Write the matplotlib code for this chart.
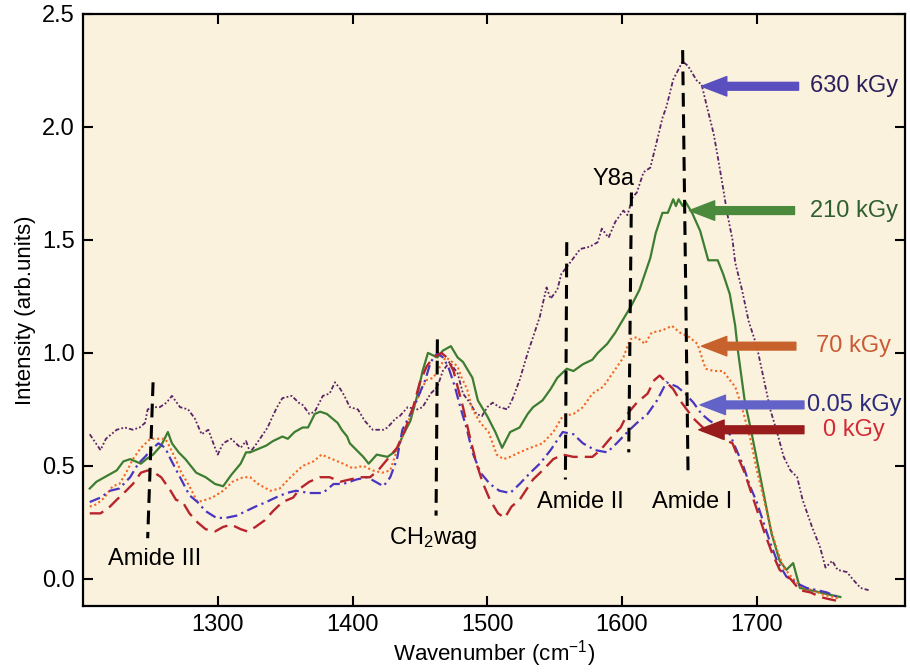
import matplotlib
matplotlib.use("Agg")
from matplotlib import pyplot as plt

plt.rcParams['font.family'] = ['Liberation Sans', 'DejaVu Sans']
plt.rcParams['mathtext.fontset'] = 'custom'
plt.rcParams['mathtext.rm'] = 'Liberation Sans'
plt.rcParams['mathtext.default'] = 'regular'

# ---- spectra (wavenumber, intensity) ----
wn_630 = [1205, 1213, 1217, 1225, 1231, 1237, 1242, 1246, 1248, 1252, 1257, 1262, 1266, 1272, 1278, 1283,
          1288, 1293, 1298, 1300, 1304, 1310, 1317, 1321, 1324, 1329, 1337, 1340, 1344, 1348, 1355, 1360,
          1363, 1368, 1372, 1378, 1383, 1387, 1391, 1394, 1398, 1404, 1409, 1415, 1423, 1426, 1432, 1435,
          1441, 1448, 1452, 1458, 1463, 1467, 1472, 1478, 1482, 1487, 1492, 1496, 1500, 1504, 1509, 1515,
          1519, 1524, 1530, 1534, 1539, 1544, 1547, 1552, 1555, 1559, 1564, 1569, 1576, 1582, 1585, 1590,
          1595, 1601, 1604, 1608, 1611, 1616, 1621, 1626, 1630, 1633, 1638, 1645, 1649, 1656, 1659, 1663,
          1668, 1671, 1675, 1678, 1682, 1684, 1689, 1694, 1700, 1705, 1710, 1715, 1720, 1725, 1730, 1734,
          1741, 1747, 1751, 1756, 1760, 1767, 1771, 1777, 1783]
int_630 = [0.64, 0.57, 0.62, 0.66, 0.67, 0.66, 0.67, 0.69, 0.75, 0.76, 0.76, 0.78, 0.81, 0.76, 0.75, 0.71,
           0.64, 0.66, 0.58, 0.55, 0.60, 0.62, 0.58, 0.61, 0.56, 0.60, 0.67, 0.71, 0.76, 0.80, 0.81, 0.78,
           0.77, 0.73, 0.74, 0.81, 0.82, 0.87, 0.84, 0.81, 0.76, 0.75, 0.70, 0.66, 0.66, 0.67, 0.71, 0.72,
           0.76, 0.75, 0.76, 0.82, 0.85, 0.92, 0.96, 0.91, 0.82, 0.78, 0.73, 0.72, 0.76, 0.78, 0.76, 0.75,
           0.80, 0.88, 1.00, 1.07, 1.16, 1.29, 1.24, 1.28, 1.35, 1.38, 1.42, 1.46, 1.47, 1.49, 1.55, 1.51,
           1.58, 1.63, 1.61, 1.69, 1.71, 1.80, 1.82, 1.94, 2.04, 2.09, 2.21, 2.29, 2.27, 2.20, 2.19, 2.09,
           1.97, 1.87, 1.73, 1.62, 1.50, 1.40, 1.28, 1.14, 1.03, 0.89, 0.75, 0.65, 0.54, 0.48, 0.45, 0.35,
           0.23, 0.14, 0.05, 0.08, 0.04, 0.03, 0.00, -0.04, -0.05]

wn_210 = [1205, 1210, 1216, 1225, 1230, 1235, 1239, 1243, 1247, 1252, 1258, 1263, 1266, 1271, 1276, 1284,
          1291, 1298, 1304, 1310, 1317, 1321, 1324, 1328, 1336, 1341, 1348, 1352, 1357, 1363, 1367, 1372,
          1376, 1381, 1385, 1389, 1392, 1396, 1398, 1403, 1408, 1412, 1418, 1426, 1433, 1437, 1443, 1448,
          1452, 1456, 1463, 1467, 1473, 1478, 1482, 1489, 1493, 1500, 1506, 1511, 1517, 1524, 1530, 1534,
          1541, 1547, 1552, 1559, 1564, 1571, 1578, 1582, 1589, 1595, 1601, 1607, 1613, 1617, 1621, 1625,
          1630, 1634, 1636, 1638, 1640, 1642, 1645, 1647, 1652, 1658, 1664, 1671, 1675, 1680, 1684, 1686,
          1691, 1696, 1701, 1706, 1711, 1717, 1722, 1727, 1732, 1740, 1747, 1754, 1762]
int_210 = [0.40, 0.43, 0.45, 0.48, 0.52, 0.53, 0.52, 0.51, 0.53, 0.55, 0.59, 0.65, 0.60, 0.56, 0.53, 0.47,
           0.45, 0.42, 0.41, 0.46, 0.51, 0.56, 0.56, 0.57, 0.59, 0.61, 0.63, 0.62, 0.65, 0.67, 0.67, 0.73,
           0.74, 0.73, 0.71, 0.69, 0.66, 0.63, 0.60, 0.57, 0.54, 0.51, 0.55, 0.54, 0.57, 0.63, 0.70, 0.81,
           0.92, 1.00, 0.98, 1.01, 1.03, 0.98, 0.96, 0.89, 0.79, 0.72, 0.65, 0.58, 0.65, 0.67, 0.73, 0.76,
           0.79, 0.84, 0.89, 0.93, 0.92, 0.95, 0.97, 1.00, 1.04, 1.09, 1.15, 1.21, 1.28, 1.35, 1.42, 1.53,
           1.62, 1.62, 1.65, 1.68, 1.65, 1.68, 1.65, 1.67, 1.62, 1.54, 1.41, 1.41, 1.35, 1.26, 1.12, 1.01,
           0.79, 0.65, 0.50, 0.35, 0.20, 0.08, 0.04, 0.07, -0.04, -0.05, -0.06, -0.07, -0.08]

wn_70 = [1205, 1210, 1216, 1222, 1227, 1232, 1237, 1243, 1250, 1254, 1261, 1263, 1268, 1273, 1279, 1285,
         1291, 1296, 1304, 1311, 1319, 1324, 1330, 1339, 1346, 1354, 1363, 1371, 1377, 1385, 1393, 1400,
         1408, 1415, 1422, 1428, 1433, 1439, 1445, 1452, 1455, 1460, 1465, 1469, 1472, 1478, 1481, 1485,
         1489, 1495, 1501, 1507, 1512, 1517, 1524, 1532, 1541, 1549, 1556, 1564, 1571, 1578, 1586, 1593,
         1601, 1606, 1611, 1617, 1622, 1630, 1637, 1643, 1650, 1656, 1662, 1668, 1675, 1680, 1684, 1688,
         1693, 1696, 1700, 1705, 1710, 1715, 1720, 1727, 1734, 1742, 1749, 1757, 1762]
int_70 = [0.32, 0.33, 0.36, 0.41, 0.42, 0.47, 0.53, 0.58, 0.62, 0.62, 0.62, 0.60, 0.54, 0.47, 0.41, 0.34,
          0.35, 0.36, 0.39, 0.43, 0.45, 0.45, 0.42, 0.39, 0.40, 0.45, 0.50, 0.52, 0.55, 0.53, 0.51, 0.49,
          0.50, 0.48, 0.47, 0.48, 0.57, 0.66, 0.75, 0.85, 0.88, 0.89, 0.94, 0.98, 0.97, 0.94, 0.89, 0.84,
          0.75, 0.69, 0.65, 0.55, 0.53, 0.54, 0.56, 0.58, 0.60, 0.65, 0.72, 0.73, 0.76, 0.82, 0.85, 0.91,
          0.98, 1.06, 1.07, 1.04, 1.09, 1.10, 1.12, 1.09, 1.07, 1.04, 0.93, 0.92, 0.92, 0.88, 0.85, 0.78,
          0.67, 0.60, 0.48, 0.36, 0.23, 0.13, 0.05, 0.00, -0.04, -0.05, -0.07, -0.08, -0.09]

wn_005 = [1205, 1213, 1220, 1227, 1235, 1241, 1246, 1252, 1256, 1261, 1265, 1272, 1279, 1285, 1291, 1299,
          1306, 1314, 1321, 1328, 1336, 1343, 1351, 1358, 1368, 1378, 1386, 1393, 1403, 1411, 1417, 1423,
          1428, 1433, 1437, 1443, 1449, 1454, 1458, 1463, 1467, 1471, 1476, 1480, 1485, 1489, 1495, 1502,
          1509, 1517, 1524, 1532, 1539, 1547, 1556, 1564, 1571, 1580, 1589, 1596, 1604, 1611, 1619, 1626,
          1633, 1641, 1647, 1653, 1659, 1665, 1673, 1680, 1685, 1690, 1695, 1700, 1705, 1710, 1715, 1722,
          1730, 1737, 1745, 1752, 1760]
int_005 = [0.34, 0.36, 0.39, 0.40, 0.45, 0.51, 0.54, 0.58, 0.60, 0.58, 0.53, 0.45, 0.37, 0.34, 0.30, 0.27,
           0.27, 0.28, 0.30, 0.32, 0.34, 0.36, 0.38, 0.39, 0.38, 0.38, 0.42, 0.42, 0.44, 0.45, 0.43, 0.41,
           0.45, 0.53, 0.66, 0.73, 0.81, 0.88, 0.96, 1.00, 0.98, 0.94, 0.85, 0.76, 0.66, 0.56, 0.47, 0.42,
           0.39, 0.38, 0.42, 0.47, 0.51, 0.57, 0.65, 0.64, 0.60, 0.57, 0.56, 0.60, 0.65, 0.69, 0.73, 0.79,
           0.87, 0.85, 0.82, 0.78, 0.73, 0.70, 0.67, 0.64, 0.57, 0.50, 0.41, 0.34, 0.25, 0.16, 0.08, 0.01,
           -0.02, -0.04, -0.05, -0.06, -0.08]

wn_0 = [1205, 1213, 1220, 1225, 1232, 1237, 1243, 1248, 1253, 1258, 1265, 1269, 1274, 1279, 1285, 1291,
        1298, 1304, 1310, 1317, 1322, 1328, 1335, 1341, 1348, 1356, 1361, 1368, 1376, 1383, 1391, 1398,
        1406, 1413, 1419, 1426, 1433, 1439, 1445, 1450, 1455, 1460, 1466, 1470, 1475, 1478, 1482, 1487,
        1492, 1497, 1502, 1508, 1513, 1518, 1524, 1534, 1541, 1549, 1556, 1564, 1571, 1578, 1584, 1591,
        1599, 1604, 1611, 1619, 1624, 1628, 1633, 1638, 1643, 1648, 1653, 1660, 1668, 1675, 1682, 1686,
        1691, 1696, 1701, 1706, 1711, 1717, 1725, 1732, 1740, 1747, 1754, 1762]
int_0 = [0.29, 0.29, 0.32, 0.35, 0.39, 0.42, 0.47, 0.48, 0.47, 0.45, 0.39, 0.35, 0.34, 0.29, 0.25, 0.22,
         0.21, 0.23, 0.24, 0.22, 0.21, 0.23, 0.26, 0.30, 0.34, 0.36, 0.40, 0.43, 0.45, 0.45, 0.43, 0.44,
         0.45, 0.45, 0.48, 0.53, 0.58, 0.66, 0.76, 0.87, 0.94, 0.98, 1.00, 0.98, 0.92, 0.85, 0.76, 0.63,
         0.51, 0.42, 0.35, 0.29, 0.27, 0.32, 0.35, 0.44, 0.48, 0.53, 0.55, 0.54, 0.54, 0.54, 0.57, 0.62,
         0.67, 0.73, 0.78, 0.82, 0.88, 0.90, 0.87, 0.84, 0.79, 0.75, 0.71, 0.67, 0.65, 0.62, 0.60, 0.54,
         0.47, 0.38, 0.29, 0.20, 0.12, 0.04, 0.00, -0.05, -0.06, -0.08, -0.09, -0.10]

# ---- band markers: label, (x_top, y_top), (x_bottom, y_bottom), label position ----
band_names = ['Amide III', 'CH$_2$wag', 'Amide II', 'Y8a', 'Amide I']
band_top = [(1252, 0.87), (1463, 1.06), (1559, 1.49), (1607, 1.71), (1645, 2.34)]
band_bottom = [(1248, 0.18), (1462, 0.28), (1558, 0.44), (1605, 0.56), (1649, 0.47)]
band_text = [(1253, 0.09), (1460, 0.18), (1569, 0.34), (1594, 1.77), (1652, 0.34)]

# ---- dose labels with arrows ----
dose_names = ['630 kGy', '210 kGy', '70 kGy', '0.05 kGy', '0 kGy']
dose_y = [2.18, 1.63, 1.03, 0.77, 0.66]
arrow_tip = [1659, 1650, 1659, 1658, 1657]
arrow_tail = [1731, 1728, 1729, 1735, 1735]
arrow_colors = ['#5a4fbf', '#4b8a3c', '#c8622c', '#6262c8', '#981c1c']
text_colors = ['#2a1f5c', '#2f5f30', '#c95a35', '#2b2b7c', '#d42a36']

fig = plt.figure(figsize=(9.1, 6.72), dpi=100)
ax = fig.add_axes([0.0912, 0.0982, 0.9033, 0.881])
ax.set_facecolor('#faf2dc')

ax.plot(wn_630, int_630, color='#5c2468', lw=1.3, ls=(0, (2.5, 1.2, 1, 1.2, 1, 1.2)))
ax.plot(wn_210, int_210, color='#3d7d32', lw=1.6, ls='-')
ax.plot(wn_70, int_70, color='#f26522', lw=1.5, ls=(0, (1, 1.3)))
ax.plot(wn_005, int_005, color='#4a35c0', lw=1.6, ls=(0, (5, 2, 1, 2)))
ax.plot(wn_0, int_0, color='#b8242c', lw=1.7, ls=(0, (6, 3)))

# band markers (dashed black)
for name, top, bot, pos in zip(band_names, band_top, band_bottom, band_text):
    ax.plot([top[0], bot[0]], [top[1], bot[1]], color='black', lw=2.2, ls=(0, (4.5, 2.5)))
    ax.text(pos[0], pos[1], name, ha='center', va='center', fontsize=17)

# dose arrows
for name, y, tip, tail, ac, tc in zip(dose_names, dose_y, arrow_tip, arrow_tail, arrow_colors, text_colors):
    ax.annotate('', xy=(tip, y), xytext=(tail, y),
                arrowprops=dict(arrowstyle='simple,head_width=1.0,head_length=1.3,tail_width=0.4',
                                mutation_scale=14, color=ac, shrinkA=0, shrinkB=0))
    ax.text(1772, y, name, ha='center', va='center', fontsize=17, color=tc)

ax.set_xlim(1200, 1810)
ax.set_ylim(-0.12, 2.5)
ax.set_xticks([1300, 1400, 1500, 1600, 1700])
ax.set_yticks([0.0, 0.5, 1.0, 1.5, 2.0, 2.5])
ax.set_yticklabels(['0.0', '0.5', '1.0', '1.5', '2.0', '2.5'])
ax.tick_params(direction='in', length=7, width=1.5, labelsize=17, top=True, right=True,
               labeltop=False, labelright=False, pad=6)
for s in ax.spines.values():
    s.set_linewidth(1.6)

ax.set_xlabel('Wavenumber (cm$^{-1}$)', fontsize=16, labelpad=1)
ax.set_ylabel('Intensity (arb.units)', fontsize=16, labelpad=4)

plt.savefig('out.png', dpi=100)
plt.close()
